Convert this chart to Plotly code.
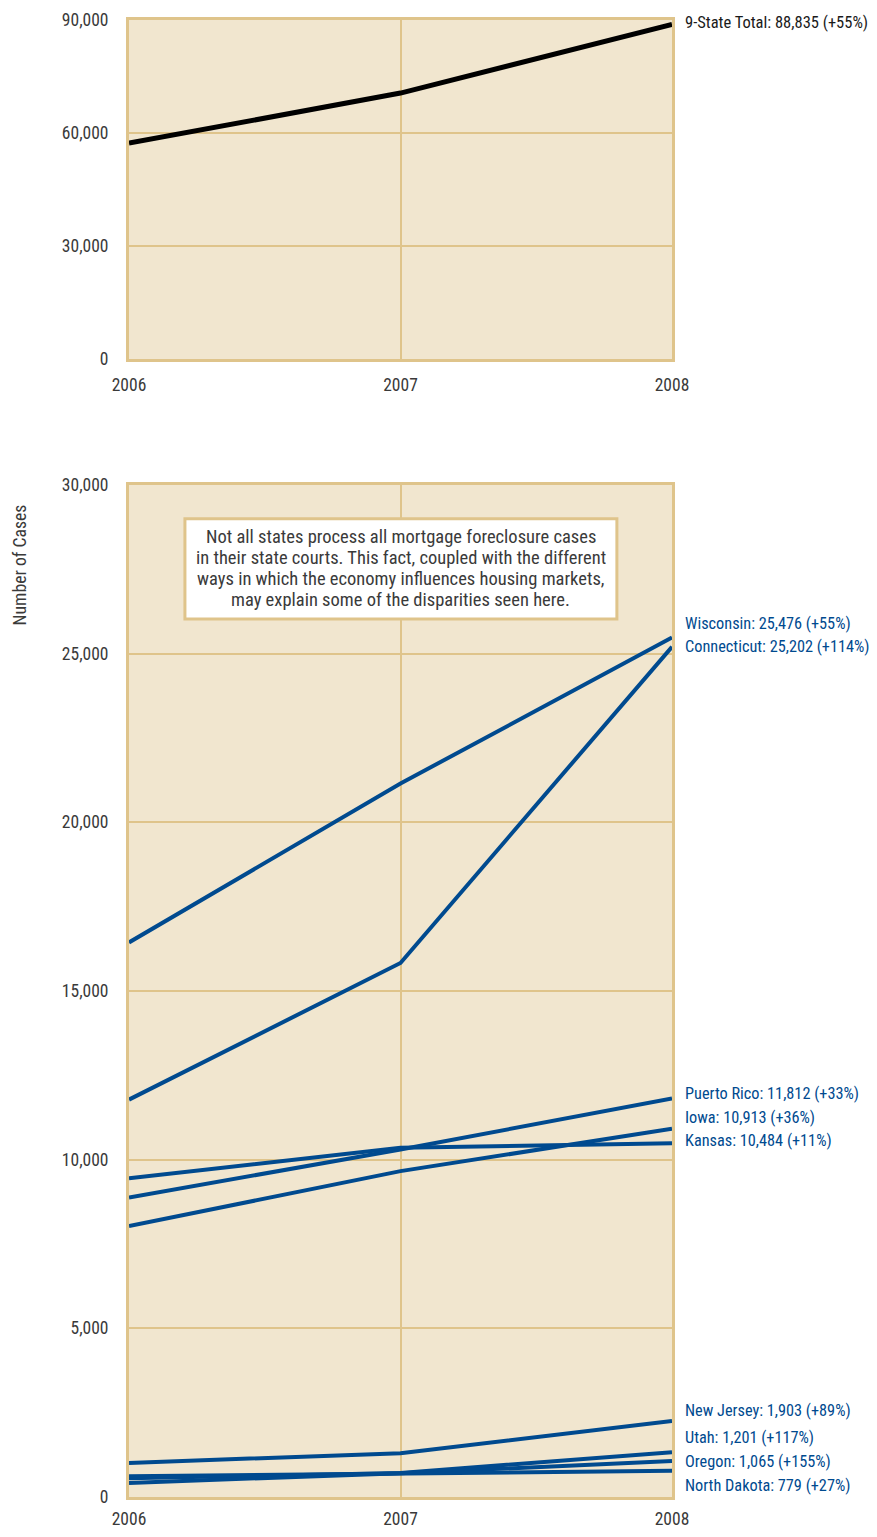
import plotly.graph_objects as go
from plotly.subplots import make_subplots

# ---------------- data ----------------
years = [2006, 2007, 2008]

total_name = "9-State Total"
total_values = [57300, 70600, 88835]
total_label = "9-State Total: 88,835 (+55%)"

states = ["Wisconsin", "Connecticut", "Puerto Rico", "Iowa", "Kansas",
          "New Jersey", "Utah", "Oregon", "North Dakota"]
wisconsin = [16440, 21150, 25476]
connecticut = [11780, 15830, 25202]
puerto_rico = [8880, 10300, 11812]
iowa = [8030, 9660, 10913]
kansas = [9450, 10350, 10484]
new_jersey = [1010, 1300, 2250]
utah = [553, 710, 1330]
oregon = [418, 705, 1065]
north_dakota = [613, 700, 779]
state_values = [wisconsin, connecticut, puerto_rico, iowa, kansas,
                new_jersey, utah, oregon, north_dakota]

state_labels = ["Wisconsin: 25,476 (+55%)", "Connecticut: 25,202 (+114%)",
                "Puerto Rico: 11,812 (+33%)", "Iowa: 10,913 (+36%)",
                "Kansas: 10,484 (+11%)", "New Jersey: 1,903 (+89%)",
                "Utah: 1,201 (+117%)", "Oregon: 1,065 (+155%)",
                "North Dakota: 779 (+27%)"]

top_ticks = [0, 30000, 60000, 90000]
bottom_ticks = [0, 5000, 10000, 15000, 20000, 25000, 30000]

note_lines = ["Not all states process all mortgage foreclosure cases",
              "in their state courts. This fact, coupled with the different",
              "ways in which the economy influences housing markets,",
              "may explain some of the disparities seen here."]
y_title = "Number of Cases"

# ---------------- layout helpers (placement, not data) ----------------
label_y_pos = [25880, 25200, 11950, 11240, 10555, 2550, 1750, 1067, 330]
note_box = dict(x0=2006.206, x1=2007.797, y0=26030, y1=28995)
note_line_y = [28461, 27839, 27216, 26594]

TAN = "#dfc48b"
BG = "#f1e6cf"
BLUE = "#004a8f"
TXT = "#3a3a3a"
FONT = "Roboto Condensed, DejaVu Sans Condensed, sans-serif"

fig = make_subplots(rows=2, cols=1)

fig.add_trace(go.Scatter(x=years, y=total_values, mode="lines", name=total_name,
                         line=dict(color="black", width=5), showlegend=False),
              row=1, col=1)
for name, vals in zip(states, state_values):
    fig.add_trace(go.Scatter(x=years, y=vals, mode="lines", name=name,
                             line=dict(color=BLUE, width=4), showlegend=False),
                  row=2, col=1)

axis_common = dict(showline=True, mirror=True, linecolor=TAN, linewidth=3,
                   showgrid=True, gridcolor=TAN, gridwidth=2, zeroline=False,
                   automargin=False,
                   tickfont=dict(family=FONT, size=17.5, color=TXT), ticks="")

fig.update_xaxes(**axis_common, range=[2006, 2008], tickvals=years,
                 ticktext=[str(y) for y in years])
fig.update_xaxes(ticklabelstandoff=8, row=1, col=1)
fig.update_xaxes(ticklabelstandoff=4, row=2, col=1)
fig.update_yaxes(**axis_common, ticklabelstandoff=14)
fig.update_yaxes(range=[0, 90000], tickvals=top_ticks,
                 ticktext=[f"{v:,}" for v in top_ticks], row=1, col=1)
fig.update_yaxes(range=[0, 30000], tickvals=bottom_ticks,
                 ticktext=[f"{v:,}" for v in bottom_ticks], row=2, col=1)

fig.update_layout(
    width=861, height=1521,
    margin=dict(l=121, r=197, t=12, b=32),
    paper_bgcolor="white", plot_bgcolor=BG,
    xaxis=dict(domain=[0, 1], anchor="y"),
    yaxis=dict(domain=[0.7705, 1.0]),
    xaxis2=dict(domain=[0, 1], anchor="y2"),
    yaxis2=dict(domain=[0.0, 0.6852]),
    font=dict(family=FONT, color=TXT),
)

fig.add_shape(type="rect", xref="x2", yref="y2", **note_box,
              fillcolor="white", line=dict(color=TAN, width=3), layer="above")

annotations = []
annotations.append(dict(x=1.0, xref="paper", y=89400, yref="y",
                        text=total_label, showarrow=False, xanchor="left",
                        xshift=11, yanchor="middle",
                        font=dict(family=FONT, size=16.5, color="#1a1a1a")))
for lab, ly in zip(state_labels, label_y_pos):
    annotations.append(dict(x=1.0, xref="paper", y=ly, yref="y2",
                            text=lab, showarrow=False, xanchor="left",
                            xshift=11, yanchor="middle",
                            font=dict(family=FONT, size=16.3, color=BLUE)))
for line, ly in zip(note_lines, note_line_y):
    annotations.append(dict(x=2007, xref="x2", y=ly, yref="y2", text=line,
                            showarrow=False, xanchor="center", yanchor="middle",
                            font=dict(family=FONT, size=18.5, color=TXT)))
annotations.append(dict(x=-0.20, xref="paper", y=0.631, yref="paper",
                        text=y_title, showarrow=False, textangle=-90,
                        xanchor="center", yanchor="middle",
                        font=dict(family=FONT, size=17.7, color=TXT)))
fig.update_layout(annotations=annotations)

fig.write_html("out.html")
